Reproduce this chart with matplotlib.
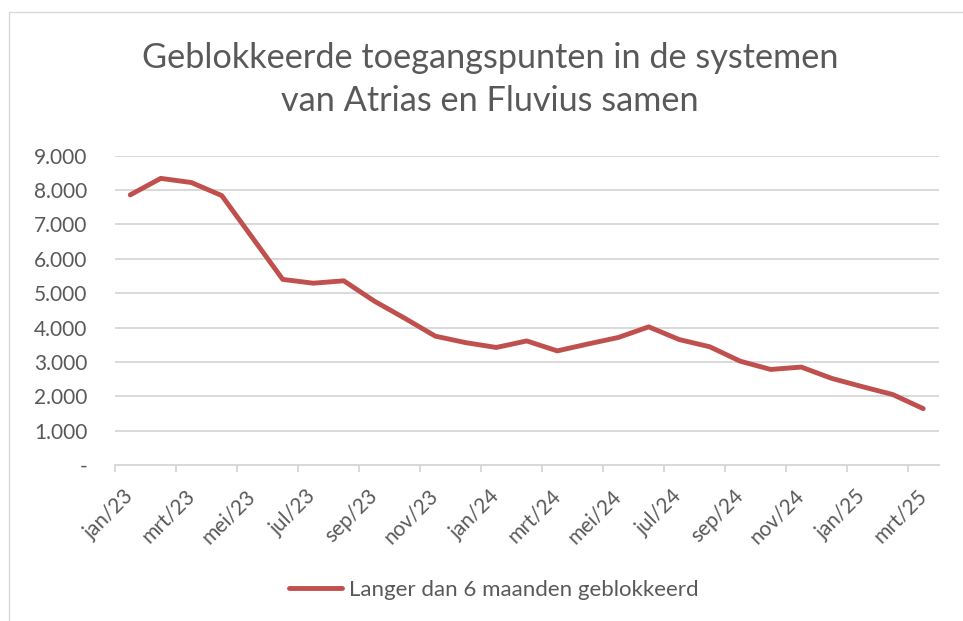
import numpy as np
import matplotlib
matplotlib.use("Agg")
import matplotlib.pyplot as plt
from matplotlib.patches import Rectangle

# months jan/23 .. mrt/25
months = ["jan/23", "feb/23", "mrt/23", "apr/23", "mei/23", "jun/23", "jul/23", "aug/23",
          "sep/23", "okt/23", "nov/23", "dec/23", "jan/24", "feb/24", "mrt/24", "apr/24",
          "mei/24", "jun/24", "jul/24", "aug/24", "sep/24", "okt/24", "nov/24", "dec/24",
          "jan/25", "feb/25", "mrt/25"]
blocked = [7860, 8340, 8220, 7840, 6620, 5400, 5290, 5360, 4770, 4270, 3750, 3560, 3420,
           3610, 3320, 3520, 3710, 4020, 3650, 3440, 3020, 2780, 2850, 2520, 2280, 2050, 1640]
yticks = [0, 1000, 2000, 3000, 4000, 5000, 6000, 7000, 8000, 9000]
ytick_labels = ["-", "1.000", "2.000", "3.000", "4.000", "5.000", "6.000", "7.000", "8.000", "9.000"]
series_name = "Langer dan 6 maanden geblokkeerd"
title = "Geblokkeerde toegangspunten in de systemen\nvan Atrias en Fluvius samen"

txt = "#595959"
grid = "#D9D9D9"
red = "#C0504D"
plt.rcParams['font.family'] = ['Lato', 'DejaVu Sans']

W, H = 963, 621
fig = plt.figure(figsize=(W/100, H/100), dpi=100)
# chart border (only left/top visible)
fig.patches.append(Rectangle((9/W, -0.1), 1.2, 1 - 12/H + 0.1, transform=fig.transFigure,
                             fill=False, edgecolor=grid, lw=1.0))

ax = fig.add_axes([115/W, (H-465)/H, (938.5-115)/W, (465-155.7)/H])
x = np.arange(len(months))
line, = ax.plot(x, blocked, color=red, lw=3.5, solid_capstyle='round', solid_joinstyle='round',
                label=series_name)

ax.set_xlim(-0.5, len(months) - 0.5)
ax.set_ylim(0, 9000)
ax.set_yticks(yticks)
ax.set_yticklabels(ytick_labels)
ax.yaxis.grid(True, color=grid, lw=1.4)
ax.set_axisbelow(True)
for s in ["left", "right", "top"]:
    ax.spines[s].set_visible(False)
ax.spines["bottom"].set_color(grid)
ax.spines["bottom"].set_linewidth(1.4)

ax.tick_params(axis='y', length=0, pad=20, labelsize=15, labelcolor=txt)
ax.set_xticks(x[::2])
ax.set_xticklabels(months[::2], rotation=45, ha='right', va='center', rotation_mode='anchor')
ax.set_xticks(np.arange(-0.5, len(months) - 1, 2), minor=True)
ax.tick_params(axis='x', which='major', length=0, pad=20, labelsize=15, labelcolor=txt)
ax.tick_params(axis='x', which='minor', length=5, width=1.4, color=grid)

fig.text(0.509, 1 - 79.5/H, title, ha='center', va='center', fontsize=24.7, color=txt,
         linespacing=1.4)

leg = fig.legend(handles=[line], loc='center', bbox_to_anchor=(0.5125, 1 - 590/H),
                 frameon=False, fontsize=16, handlelength=2.4, handletextpad=0.3)
for t in leg.get_texts():
    t.set_color(txt)

fig.savefig("out.png", dpi=100)
